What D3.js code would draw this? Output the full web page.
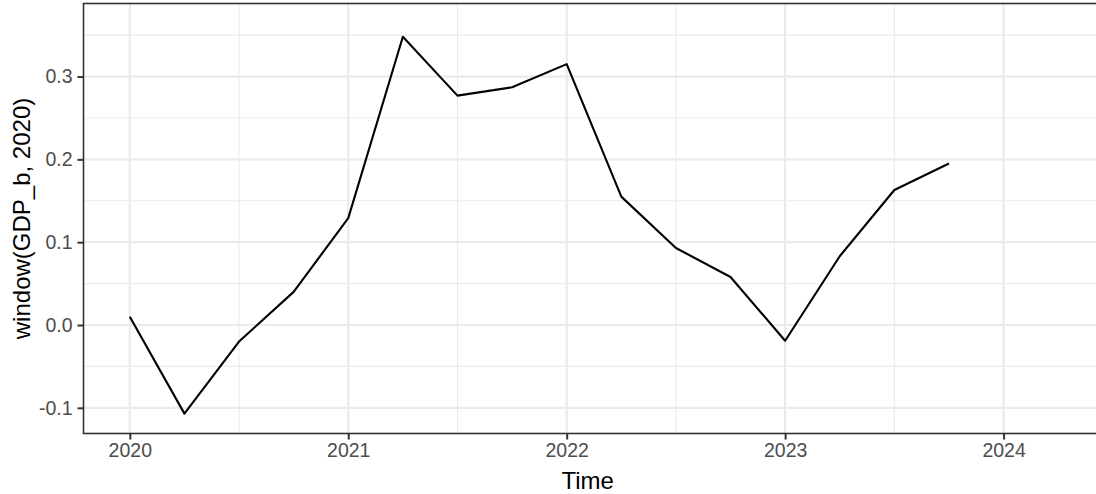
<!DOCTYPE html>
<html>
<head>
<meta charset="utf-8">
<script src="https://cdn.jsdelivr.net/npm/d3@7"></script>
<style>
  html, body { margin: 0; padding: 0; background: #fff; }
  svg { display: block; font-family: "Liberation Sans", Arial, sans-serif; }
</style>
</head>
<body>
<svg id="chart" width="1096" height="494"></svg>
<script>
// Data (quarterly time series)
const times = [2020.00, 2020.25, 2020.50, 2020.75, 2021.00, 2021.25, 2021.50, 2021.75,
               2022.00, 2022.25, 2022.50, 2022.75, 2023.00, 2023.25, 2023.50, 2023.75];
const values = [0.010, -0.107, -0.020, 0.040, 0.129, 0.348, 0.277, 0.287,
                0.315, 0.155, 0.093, 0.058, -0.019, 0.083, 0.163, 0.195];
const xTicks = [2020, 2021, 2022, 2023, 2024];
const xMinor = [2020.5, 2021.5, 2022.5, 2023.5];
const yTicks = [-0.1, 0.0, 0.1, 0.2, 0.3];
const yMinor = [-0.05, 0.05, 0.15, 0.25, 0.35];
const xTitle = "Time";
const yTitle = "window(GDP_b, 2020)";

const svg = d3.select("#chart");
const pLeft = 83.5, pRight = 1097.5, pTop = 3.5, pBottom = 433.5;

const x = d3.scaleLinear().domain([2019.788, 2024.43]).range([pLeft, pRight]);
const y = d3.scaleLinear().domain([-0.131, 0.3882]).range([pBottom, pTop]);

svg.append("rect").attr("width", 1096).attr("height", 494).attr("fill", "#fff");

const grid = svg.append("g");
// minor grid
grid.selectAll("line.ymin").data(yMinor).join("line").attr("class", "ymin")
  .attr("x1", pLeft).attr("x2", pRight)
  .attr("y1", d => y(d)).attr("y2", d => y(d))
  .attr("stroke", "#EBEBEB").attr("stroke-width", 1.1);
grid.selectAll("line.xmin").data(xMinor).join("line").attr("class", "xmin")
  .attr("y1", pTop).attr("y2", pBottom)
  .attr("x1", d => x(d)).attr("x2", d => x(d))
  .attr("stroke", "#EBEBEB").attr("stroke-width", 1.1);
// major grid
grid.selectAll("line.ymaj").data(yTicks).join("line").attr("class", "ymaj")
  .attr("x1", pLeft).attr("x2", pRight)
  .attr("y1", d => y(d)).attr("y2", d => y(d))
  .attr("stroke", "#EBEBEB").attr("stroke-width", 2.2);
grid.selectAll("line.xmaj").data(xTicks).join("line").attr("class", "xmaj")
  .attr("y1", pTop).attr("y2", pBottom)
  .attr("x1", d => x(d)).attr("x2", d => x(d))
  .attr("stroke", "#EBEBEB").attr("stroke-width", 2.2);

// line
const line = d3.line().x((d, i) => x(times[i])).y(d => y(d));
svg.append("path").datum(values)
  .attr("d", line)
  .attr("fill", "none")
  .attr("stroke", "#000")
  .attr("stroke-width", 2.1)
  .attr("stroke-linejoin", "round");

// panel border
svg.append("rect")
  .attr("x", pLeft).attr("y", pTop)
  .attr("width", pRight - pLeft).attr("height", pBottom - pTop)
  .attr("fill", "none").attr("stroke", "#333333").attr("stroke-width", 1.6);

// axes
const xAxis = d3.axisBottom(x).tickValues(xTicks).tickFormat(d3.format("d"))
  .tickSize(6).tickPadding(4);
const gx = svg.append("g").attr("transform", `translate(0,${pBottom})`).call(xAxis);
gx.select(".domain").remove();
gx.selectAll(".tick line").attr("stroke", "#333333").attr("stroke-width", 2);
gx.selectAll(".tick text").attr("fill", "#4D4D4D").attr("font-size", 19.5)
  .attr("font-family", "Liberation Sans, Arial, sans-serif");

const yAxis = d3.axisLeft(y).tickValues(yTicks)
  .tickFormat(d => d3.format(".1f")(d).replace("\u2212", "-"))
  .tickSize(6).tickPadding(5);
const gy = svg.append("g").attr("transform", `translate(${pLeft},0)`).call(yAxis);
gy.select(".domain").remove();
gy.selectAll(".tick line").attr("stroke", "#333333").attr("stroke-width", 2);
gy.selectAll(".tick text").attr("fill", "#4D4D4D").attr("font-size", 19.5)
  .attr("font-family", "Liberation Sans, Arial, sans-serif");

// titles
svg.append("text")
  .attr("x", (pLeft + 1096) / 2 - 2).attr("y", 489)
  .attr("text-anchor", "middle").attr("font-size", 24).attr("fill", "#000")
  .text(xTitle);
svg.append("text")
  .attr("transform", `translate(29.5,${(pTop + pBottom) / 2}) rotate(-90)`)
  .attr("text-anchor", "middle").attr("font-size", 24).attr("fill", "#000")
  .text(yTitle);
</script>
</body>
</html>
